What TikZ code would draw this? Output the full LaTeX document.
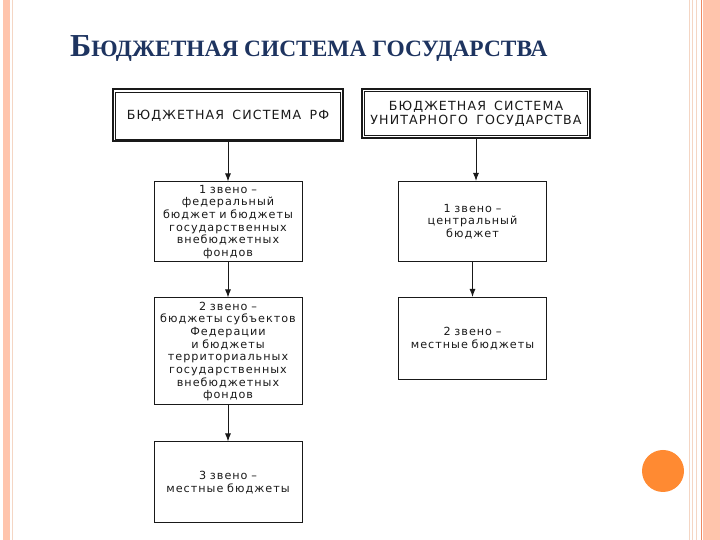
\documentclass[tikz,border=0pt]{standalone}
\usepackage{fontspec}
\setmainfont{Liberation Serif}
\newfontfamily\boxfont[LetterSpace=9,WordSpace=1.6]{DejaVu Sans}
\usetikzlibrary{positioning,arrows.meta}
\definecolor{titleblue}{RGB}{30,52,96}
\definecolor{salmon}{RGB}{255,196,172}
\definecolor{rimorange}{RGB}{236,138,100}
\definecolor{paleline}{RGB}{244,214,196}
\definecolor{dotorange}{RGB}{255,138,50}
\definecolor{ink}{RGB}{25,25,25}

\tikzset{
  headbox/.style={draw=ink, line width=2pt, align=center, text=ink,
    font=\boxfont\fontsize{12.6}{14}\selectfont},
  levelbox/.style={draw=ink, line width=1pt, text width=142pt, inner sep=3pt,
    align=center, text=ink, font=\boxfont\fontsize{11.2}{12.7}\selectfont},
  link/.style={-{Latex[length=8pt,width=6pt]}, line width=1pt, draw=ink}
}

\begin{document}
\begin{tikzpicture}[x=1pt,y=1pt]
  \useasboundingbox (0,0) rectangle (720,540);
  % slide frame
  \fill[salmon] (3,0) rectangle (10,540);
  \draw[paleline, line width=1pt] (12.5,0) -- (12.5,540);
  \draw[paleline, line width=1pt] (689,0) -- (689,540);
  \draw[paleline, line width=1pt] (692.5,0) -- (692.5,540);
  \draw[paleline, line width=0.8pt] (696.5,0) -- (696.5,540);
  \draw[rimorange, line width=1.5pt] (701.5,0) -- (701.5,540);
  \fill[salmon] (703,0) rectangle (720,540);
  \fill[dotorange] (663,69) circle (21);

  % title
  \node[anchor=base west, text=titleblue, inner sep=0pt] (title) at (70,483)
    {\bfseries{\fontsize{32}{32}\selectfont Б}{\fontsize{23.4}{23.4}\selectfont ЮДЖЕТНАЯ СИСТЕМА ГОСУДАРСТВА}};

  % heads
  \node[headbox, minimum width=230pt, minimum height=52pt] (sysrf) at (228,424.5)
    {БЮДЖЕТНАЯ СИСТЕМА РФ};
  \node[headbox, minimum width=228pt, minimum height=49pt] (sysun) at (476,426.5)
    {БЮДЖЕТНАЯ СИСТЕМА\\УНИТАРНОГО ГОСУДАРСТВА};
  \draw[ink, line width=0.6pt] ([shift={(3.5,-3.5)}]sysrf.north west) rectangle ([shift={(-3.5,3.5)}]sysrf.south east);
  \draw[ink, line width=0.6pt] ([shift={(3.5,-3.5)}]sysun.north west) rectangle ([shift={(-3.5,3.5)}]sysun.south east);

  % left column
  \node[levelbox, minimum height=80pt] (zv1) [below=39pt of sysrf]
    {1 звено –\\федеральный\\бюджет и бюджеты\\государственных\\внебюджетных\\фондов};
  \node[levelbox, minimum height=107pt] (zv2) [below=35pt of zv1]
    {2 звено –\\бюджеты субъектов\\Федерации\\и бюджеты\\территориальных\\государственных\\внебюджетных\\фондов};
  \node[levelbox, minimum height=81pt] (zv3) [below=36pt of zv2]
    {3 звено –\\местные бюджеты};

  % right column
  \node[levelbox, minimum height=80pt] (cz1) [below=42pt of sysun, xshift=-3.5pt]
    {1 звено –\\центральный\\бюджет};
  \node[levelbox, minimum height=82pt] (cz2) [below=35pt of cz1]
    {2 звено –\\местные бюджеты};

  \draw[link] (sysrf) -- (zv1);
  \draw[link] (zv1) -- (zv2);
  \draw[link] (zv2) -- (zv3);
  \draw[link] (sysun.south) -- (sysun.south |- cz1.north);
  \draw[link] (cz1) -- (cz2);
\end{tikzpicture}
\end{document}
